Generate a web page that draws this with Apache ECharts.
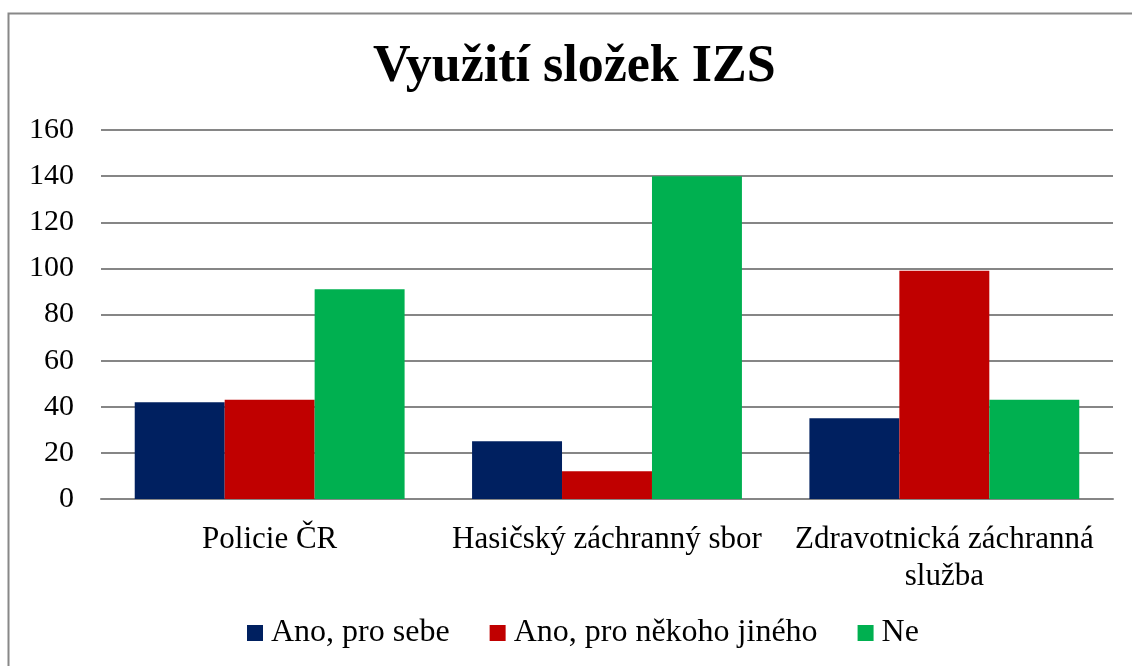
<!DOCTYPE html>
<html>
<head>
<meta charset="utf-8">
<script src="https://cdn.jsdelivr.net/npm/echarts@6/dist/echarts.min.js"></script>
<style>
  html, body { margin: 0; padding: 0; background: #fff; }
  #main { width: 1132px; height: 666px; }
</style>
</head>
<body>
<div id="main"></div>
<script>
// data
var categories = ['Policie ČR', 'Hasičský záchranný sbor', 'Zdravotnická záchranná služba'];
var seriesNames = ['Ano, pro sebe', 'Ano, pro někoho jiného', 'Ne'];
var proSebe = [42, 25, 35];
var proJineho = [43, 12, 99];
var ne = [91, 140, 43];
var colors = ['#002060', '#C00000', '#00B050'];

var font = '"Liberation Serif", "Times New Roman", serif';

var chart = echarts.init(document.getElementById('main'));

function makeSeries(name, values, color) {
    return {
        name: name,
        type: 'bar',
        data: values,
        barGap: '0%',
        barCategoryGap: '20%',
        itemStyle: { color: color },
        animation: false
    };
}

// long labels break before the last word, like in the original
function wrapLabel(v) {
    if (v.length > 25) {
        var i = v.lastIndexOf(' ');
        return v.slice(0, i) + '\n' + v.slice(i + 1);
    }
    return v;
}

var option = {
    backgroundColor: '#fff',
    animation: false,
    title: {
        text: 'Využití složek IZS',
        left: 368,
        top: 37,
        textStyle: { fontFamily: font, fontSize: 52, fontWeight: 'bold', color: '#000' }
    },
    graphic: [{
        type: 'rect',
        shape: { x: 8.5, y: 13.5, width: 1200, height: 700 },
        style: { fill: 'none', stroke: '#888', lineWidth: 2 },
        silent: true
    }],
    legend: {
        left: 247,
        top: 617,
        padding: 0,
        itemWidth: 16,
        itemHeight: 16,
        itemGap: 40,
        icon: 'rect',
        textStyle: { fontFamily: font, fontSize: 32, color: '#000', padding: [0, 0, 0, 3] },
        data: seriesNames
    },
    grid: { left: 101, right: 19, top: 130, bottom: 167, containLabel: false },
    xAxis: {
        type: 'category',
        data: categories,
        axisLine: { show: true, lineStyle: { color: '#868686', width: 2 } },
        axisTick: { show: false },
        axisLabel: {
            interval: 0,
            margin: 22,
            formatter: wrapLabel,
            lineHeight: 37,
            fontFamily: font,
            fontSize: 31,
            color: '#000'
        }
    },
    yAxis: {
        type: 'value',
        min: 0,
        max: 160,
        interval: 20,
        axisLine: { show: false },
        axisTick: { show: false },
        splitLine: { lineStyle: { color: '#868686', width: 2 } },
        axisLabel: { margin: 27, fontFamily: font, fontSize: 30, color: '#000' }
    },
    series: [
        makeSeries(seriesNames[0], proSebe, colors[0]),
        makeSeries(seriesNames[1], proJineho, colors[1]),
        makeSeries(seriesNames[2], ne, colors[2])
    ]
};

chart.setOption(option);
window.addEventListener('resize', function () {
    chart.resize();
});
</script>
</body>
</html>
